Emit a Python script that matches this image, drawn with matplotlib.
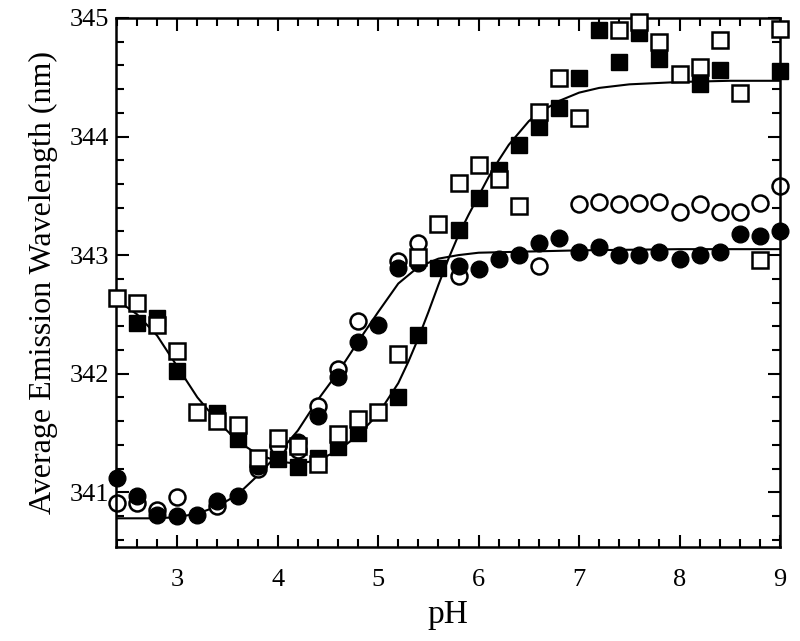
import matplotlib.pyplot as plt

plt.rcParams['font.family'] = ['Liberation Serif', 'DejaVu Serif']

# open squares
osq_x = [2.4, 2.6, 2.8, 3.0, 3.2, 3.4, 3.6, 3.8, 4.0, 4.2, 4.4, 4.6, 4.8, 5.0, 5.2, 5.4, 5.6,
         5.8, 6.0, 6.2, 6.4, 6.6, 6.8, 7.0, 7.4, 7.6, 7.8, 8.0, 8.2, 8.4, 8.6, 8.8, 9.0]
osq_y = [342.64, 342.60, 342.41, 342.19, 341.68, 341.60, 341.57, 341.29, 341.46, 341.39, 341.24,
         341.49, 341.62, 341.68, 342.17, 342.98, 343.26, 343.61, 343.76, 343.64, 343.41, 344.21,
         344.49, 344.16, 344.90, 344.97, 344.80, 344.53, 344.59, 344.81, 344.37, 342.96, 344.91]

# filled squares
fsq_x = [2.6, 2.8, 3.0, 3.4, 3.6, 4.0, 4.2, 4.4, 4.6, 4.8, 5.2, 5.4, 5.6, 5.8, 6.0, 6.2, 6.4,
         6.6, 6.8, 7.0, 7.2, 7.4, 7.6, 7.8, 8.2, 8.4, 9.0]
fsq_y = [342.43, 342.47, 342.02, 341.67, 341.45, 341.28, 341.21, 341.29, 341.38, 341.50, 341.80,
         342.33, 342.89, 343.21, 343.48, 343.72, 343.93, 344.08, 344.24, 344.49, 344.90, 344.63,
         344.87, 344.65, 344.44, 344.56, 344.55]

# filled circles
fci_x = [2.4, 2.6, 2.8, 3.0, 3.2, 3.4, 3.6, 3.8, 4.2, 4.4, 4.6, 4.8, 5.0, 5.2, 5.4, 5.8, 6.0,
         6.2, 6.4, 6.6, 6.8, 7.0, 7.2, 7.4, 7.6, 7.8, 8.0, 8.2, 8.4, 8.6, 8.8, 9.0]
fci_y = [341.12, 340.97, 340.81, 340.80, 340.81, 340.93, 340.97, 341.22, 341.42, 341.64, 341.97,
         342.27, 342.41, 342.89, 342.93, 342.91, 342.88, 342.97, 343.00, 343.10, 343.14, 343.03,
         343.07, 343.00, 343.00, 343.03, 342.97, 343.00, 343.03, 343.18, 343.16, 343.20]

# open circles
oci_x = [2.4, 2.6, 2.8, 3.0, 3.4, 3.8, 4.0, 4.2, 4.4, 4.6, 4.8, 5.2, 5.4, 5.8, 6.6,
         7.0, 7.2, 7.4, 7.6, 7.8, 8.0, 8.2, 8.4, 8.6, 8.8, 9.0]
oci_y = [340.91, 340.91, 340.85, 340.96, 340.88, 341.20, 341.39, 341.36, 341.73, 342.04, 342.44,
         342.95, 343.10, 342.82, 342.91, 343.43, 343.45, 343.43, 343.44, 343.45, 343.36, 343.43,
         343.36, 343.36, 343.44, 343.58]

# fitted curves
fit1_x = [2.4, 2.6, 2.8, 3.0, 3.2, 3.4, 3.6, 3.8, 4.0, 4.2, 4.4, 4.6, 4.8, 5.0, 5.2, 5.3, 5.4,
          5.5, 5.6, 5.7, 5.8, 5.9, 6.0, 6.1, 6.2, 6.3, 6.4, 6.5, 6.6, 6.8, 7.0, 7.2, 7.5, 8.0,
          8.5, 9.0]
fit1_y = [342.62, 342.50, 342.32, 342.06, 341.80, 341.60, 341.43, 341.32, 341.26, 341.24, 341.27,
          341.35, 341.48, 341.66, 341.92, 342.10, 342.30, 342.52, 342.75, 342.97, 343.17, 343.34,
          343.50, 343.66, 343.80, 343.93, 344.03, 344.13, 344.20, 344.30, 344.37, 344.41, 344.44,
          344.46, 344.47, 344.47]
fit2_x = [2.4, 2.8, 3.0, 3.2, 3.4, 3.6, 3.8, 4.0, 4.2, 4.4, 4.6, 4.8, 5.0, 5.2, 5.4, 5.6, 5.8,
          6.0, 6.5, 7.0, 8.0, 9.0]
fit2_y = [340.78, 340.78, 340.79, 340.82, 340.88, 340.98, 341.14, 341.32, 341.52, 341.78, 342.01,
          342.27, 342.52, 342.76, 342.90, 342.97, 343.00, 343.02, 343.03, 343.04, 343.05, 343.05]

fig = plt.figure(figsize=(8, 6.41), dpi=100)
ax = fig.add_axes([0.145, 0.147, 0.83, 0.825])

ax.plot(fit1_x, fit1_y, color='black', lw=1.5, zorder=1)
ax.plot(fit2_x, fit2_y, color='black', lw=1.5, zorder=1)

ax.plot(oci_x, oci_y, 'o', ms=11.5, mfc='white', mec='black', mew=1.8, zorder=2, clip_on=False)
ax.plot(fci_x, fci_y, 'o', ms=12, mfc='black', mec='black', zorder=3, clip_on=False)
ax.plot(fsq_x, fsq_y, 's', ms=12, mfc='black', mec='black', zorder=4, clip_on=False)
ax.plot(osq_x, osq_y, 's', ms=12, mfc='white', mec='black', mew=1.8, zorder=5, clip_on=False)

ax.set_xlim(2.39, 9.0)
ax.set_ylim(340.54, 345.0)
ax.set_xticks([3, 4, 5, 6, 7, 8, 9])
ax.set_yticks([341, 342, 343, 344, 345])
ax.set_xticks([x / 10 for x in range(24, 91, 2)], minor=True)
ax.set_yticks([340.6 + i * 0.2 for i in range(22)], minor=True)

ax.tick_params(which='both', direction='in', top=True, right=True, width=1.5, labelsize=19)
ax.tick_params(axis='x', pad=16)
ax.tick_params(axis='y', pad=5)
ax.tick_params(which='major', length=9)
ax.tick_params(which='minor', length=6)
for s in ax.spines.values():
    s.set_linewidth(1.8)

ax.set_xlabel('pH', fontsize=24, labelpad=6)
ax.set_ylabel('Average Emission Wavelength (nm)', fontsize=23, labelpad=8)

fig.savefig('out.png', dpi=100)
